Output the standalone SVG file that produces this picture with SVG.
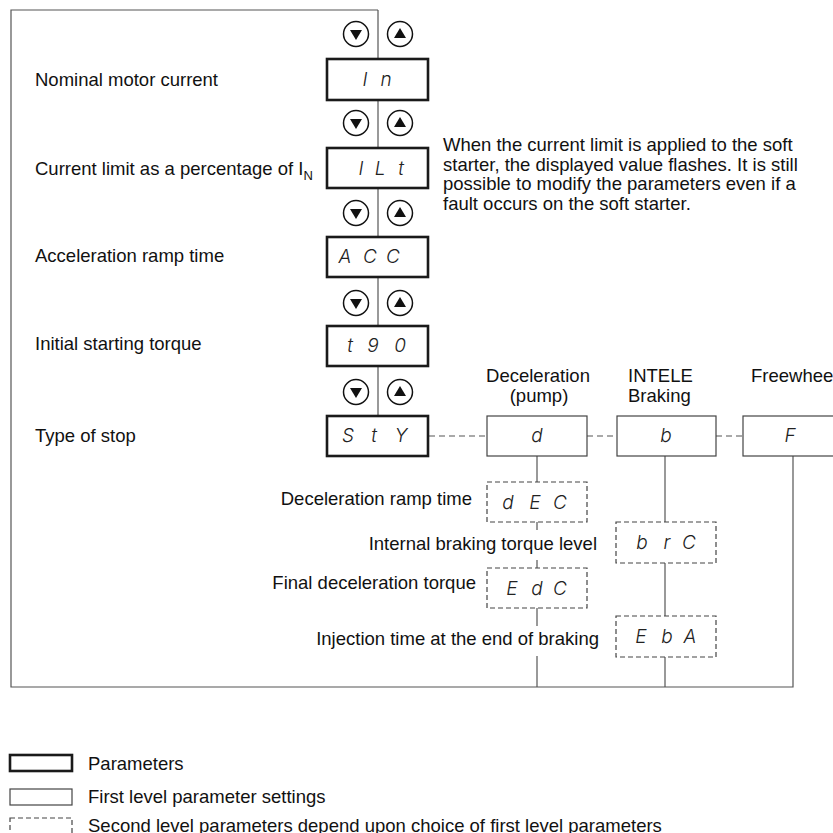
<svg xmlns="http://www.w3.org/2000/svg" xmlns:xlink="http://www.w3.org/1999/xlink" width="833" height="833" viewBox="0 0 833 833">
<style>
.lbl{font-family:"Liberation Sans",Arial,Helvetica,sans-serif;font-size:18.5px;fill:#111}
.end{text-anchor:end}
.mid{text-anchor:middle}
.seg{font-family:"Inter","Open Sans","DejaVu Sans",sans-serif;font-size:19px;font-style:italic;font-weight:300;fill:#222;text-anchor:middle}
.thick{fill:#fff;stroke:#1a1a1a;stroke-width:2.6}
.thin{fill:#fff;stroke:#444;stroke-width:1.2}
.dash{fill:#fff;stroke:#444;stroke-width:1.2;stroke-dasharray:5 3}
.ln{stroke:#555;stroke-width:1.2;fill:none}
.dln{stroke:#555;stroke-width:1.2;fill:none;stroke-dasharray:6 4}
.bc{fill:#fff;stroke:#111;stroke-width:1.5}
.tri{fill:#111}
</style>
<defs>
<g id="btns">
<circle class="bc" cx="356" cy="0" r="12.5"/>
<polygon class="tri" points="350,-4 362,-4 356,6"/>
<circle class="bc" cx="400" cy="0" r="12.5"/>
<polygon class="tri" points="394,4 406,4 400,-6"/>
</g>
</defs>
<rect width="833" height="833" fill="#fff"/>

<g id="connectors">
<path class="ln" d="M378,10 H11 V687 H793 V456"/>
<line class="ln" x1="378" y1="10" x2="378" y2="416"/>
<line class="dln" x1="429" y1="436" x2="487" y2="436"/>
<line class="dln" x1="587" y1="436" x2="617" y2="436"/>
<line class="dln" x1="716" y1="436" x2="743" y2="436"/>
<line class="ln" x1="537" y1="456" x2="537" y2="482"/>
<line class="ln" x1="537" y1="522" x2="537" y2="530"/>
<line class="ln" x1="537" y1="560" x2="537" y2="568"/>
<line class="ln" x1="537" y1="608" x2="537" y2="626"/>
<line class="ln" x1="537" y1="656" x2="537" y2="687"/>
<line class="ln" x1="665" y1="456" x2="665" y2="522"/>
<line class="ln" x1="665" y1="563" x2="665" y2="616"/>
<line class="ln" x1="665" y1="657" x2="665" y2="687"/>
</g>

<g id="buttons">
<use xlink:href="#btns" transform="translate(0,34)"/>
<use xlink:href="#btns" transform="translate(0,123)"/>
<use xlink:href="#btns" transform="translate(0,213)"/>
<use xlink:href="#btns" transform="translate(0,303)"/>
<use xlink:href="#btns" transform="translate(0,392)"/>
</g>

<g id="n-In">
<rect class="thick" x="327" y="59" width="101" height="41"/>
<text class="seg" x="365 386" y="86">In</text>
<text class="lbl" x="35" y="86">Nominal motor current</text>
</g>
<g id="n-ILt">
<rect class="thick" x="327" y="148" width="101" height="40"/>
<text class="seg" x="361 380 401" y="175">ILt</text>
<text class="lbl" x="35" y="175">Current limit as a percentage of I<tspan font-size="13" dy="5">N</tspan></text>
</g>
<g id="n-ACC">
<rect class="thick" x="327" y="237" width="101" height="40"/>
<text class="seg" x="345 370 393" y="263">ACC</text>
<text class="lbl" x="35" y="262">Acceleration ramp time</text>
</g>
<g id="n-t90">
<rect class="thick" x="327" y="326" width="101" height="40"/>
<text class="seg" x="350 373 400" y="352">t90</text>
<text class="lbl" x="35" y="350">Initial starting torque</text>
</g>
<g id="n-StY">
<rect class="thick" x="327" y="416" width="101" height="40"/>
<text class="seg" x="348 374 401" y="442">StY</text>
<text class="lbl" x="35" y="442">Type of stop</text>
</g>

<g id="note">
<text class="lbl" x="443" y="151">When the current limit is applied to the soft</text>
<text class="lbl" x="443" y="170.5">starter, the displayed value flashes. It is still</text>
<text class="lbl" x="443" y="190">possible to modify the parameters even if a</text>
<text class="lbl" x="443" y="209.5">fault occurs on the soft starter.</text>
</g>

<g id="n-d">
<text class="lbl mid" x="538" y="382">Deceleration</text>
<text class="lbl mid" x="539" y="402">(pump)</text>
<rect class="thin" x="487" y="416" width="100" height="40"/>
<text class="seg" x="537" y="442">d</text>
</g>
<g id="n-b">
<text class="lbl" x="628" y="382">INTELE</text>
<text class="lbl" x="628" y="402">Braking</text>
<rect class="thin" x="617" y="416" width="99" height="40"/>
<text class="seg" x="666" y="442">b</text>
</g>
<g id="n-F">
<text class="lbl" x="751" y="382">Freewheel</text>
<rect class="thin" x="743" y="416" width="110" height="40"/>
<text class="seg" x="790" y="442">F</text>
</g>

<g id="n-dEC">
<rect class="dash" x="487" y="482" width="100" height="40"/>
<text class="seg" x="508 535 560" y="508.5">dEC</text>
<text class="lbl end" x="472" y="505">Deceleration ramp time</text>
</g>
<g id="n-brC-label">
<text class="lbl end" x="597" y="550">Internal braking torque level</text>
</g>
<g id="n-brC">
<rect class="dash" x="616" y="522" width="100" height="41"/>
<text class="seg" x="642 667 689" y="549">brC</text>
</g>
<g id="n-EdC">
<rect class="dash" x="487" y="568" width="100" height="40"/>
<text class="seg" x="512 537 560" y="594.5">EdC</text>
<text class="lbl end" x="476" y="589">Final deceleration torque</text>
</g>
<g id="n-EbA">
<rect class="dash" x="616" y="616" width="100" height="41"/>
<text class="seg" x="641 667 690" y="643">EbA</text>
<text class="lbl end" x="599" y="645">Injection time at the end of braking</text>
</g>

<g id="legend">
<rect class="thick" x="10" y="755" width="62" height="16"/>
<text class="lbl" x="88" y="770">Parameters</text>
<rect class="thin" x="10" y="789" width="62" height="16"/>
<text class="lbl" x="88" y="803">First level parameter settings</text>
<rect class="dash" x="10" y="818" width="62" height="20"/>
<text class="lbl" x="88" y="832">Second level parameters depend upon choice of first level parameters</text>
</g>
</svg>
